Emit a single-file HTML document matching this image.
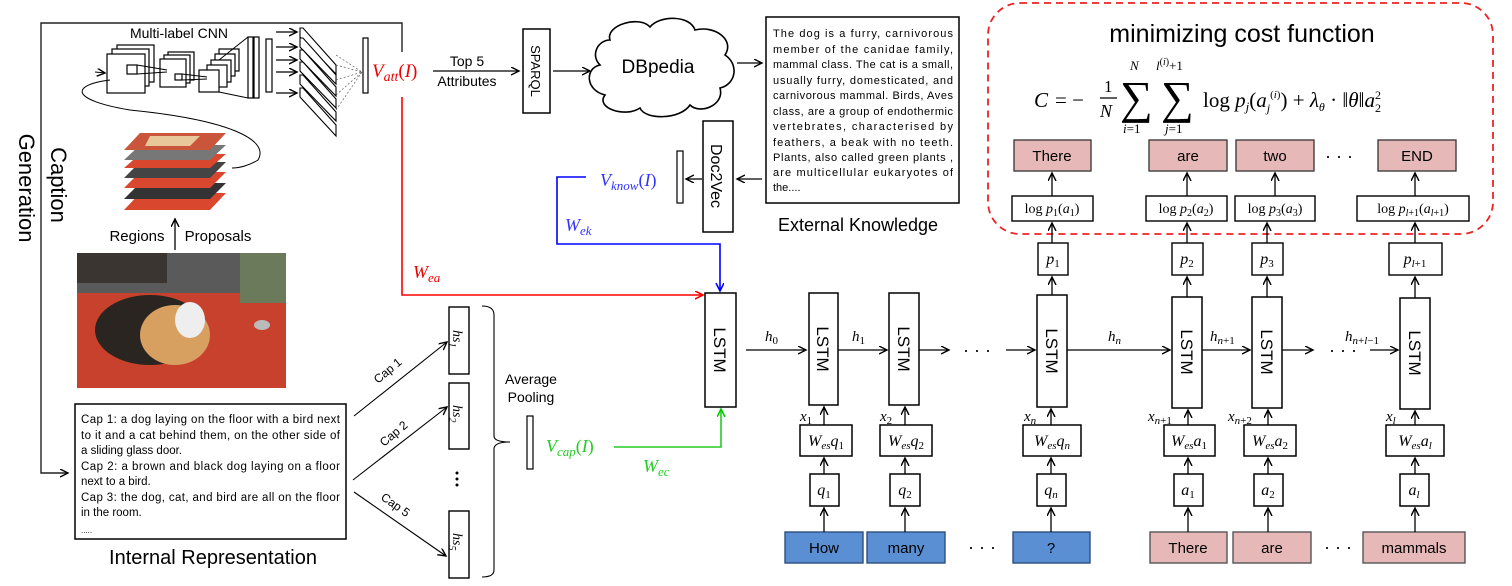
<!DOCTYPE html>
<html><head><meta charset="utf-8"><style>
html,body{margin:0;padding:0;background:#fff;}
svg{display:block;}
.s{font-family:"Liberation Sans",sans-serif;}
.m{font-family:"Liberation Serif",serif;font-style:italic;}
.r{font-family:"Liberation Serif",serif;}
</style></head><body>
<svg width="1512" height="586" viewBox="0 0 1512 586" xmlns="http://www.w3.org/2000/svg">
<defs>
<marker id="a" markerWidth="10" markerHeight="10" refX="8" refY="4" orient="auto" markerUnits="userSpaceOnUse"><path d="M0,0 L8,4 L0,8" fill="none" stroke="#000" stroke-width="1.4"/></marker>
<marker id="ar" markerWidth="10" markerHeight="10" refX="8" refY="4" orient="auto" markerUnits="userSpaceOnUse"><path d="M0,0 L8,4 L0,8" fill="none" stroke="#f00" stroke-width="1.6"/></marker>
<marker id="ab" markerWidth="10" markerHeight="10" refX="8" refY="4" orient="auto" markerUnits="userSpaceOnUse"><path d="M0,0 L8,4 L0,8" fill="none" stroke="#00f" stroke-width="1.6"/></marker>
<marker id="ag" markerWidth="10" markerHeight="10" refX="8" refY="4" orient="auto" markerUnits="userSpaceOnUse"><path d="M0,0 L8,4 L0,8" fill="none" stroke="#0c0" stroke-width="1.6"/></marker>
</defs>

<g fill="none" stroke="#222" stroke-width="1.4">
<path d="M402,52 L402,23 L41,23 L41,473 L68,473" marker-end="url(#a)"/>
</g>
<g class="s" font-size="22" fill="#000">
<text transform="translate(51,185) rotate(90)" text-anchor="middle">Caption</text>
<text transform="translate(19,188) rotate(90)" text-anchor="middle">Generation</text>
</g>

<text class="s" x="179" y="38" font-size="14" text-anchor="middle">Multi-label CNN</text>
<g fill="#fff" stroke="#000" stroke-width="1.2">
<rect x="117" y="45" width="37" height="37"/><rect x="112" y="49" width="37" height="37"/><rect x="107" y="54" width="38" height="39"/>
<rect x="127" y="65" width="10" height="9"/>
<rect x="168" y="52" width="26" height="28"/><rect x="164" y="55" width="26" height="28"/><rect x="160" y="59" width="26" height="28"/>
<rect x="175" y="74" width="7" height="6"/>
<rect x="219" y="49" width="20" height="22"/><rect x="215" y="54" width="20" height="22"/><rect x="211" y="60" width="20" height="22"/><rect x="207" y="65" width="20" height="22"/><rect x="199" y="70" width="20" height="22"/>
<rect x="248" y="37" width="5" height="61"/><rect x="254" y="37" width="5" height="61"/>
<rect x="266" y="39" width="6" height="53"/>
</g>
<g stroke="#000" stroke-width="1" fill="none">
<path d="M137,65 L167,70 M137,74 L167,72 M182,74 L207,77 M182,80 L207,79 M219,60 L248,37 M219,92 L248,98"/>
<path d="M110,80 C70,85 70,100 130,110 C230,120 270,140 258,160 C250,165 240,168 232,168"/>
</g>
<path d="M95,72 L105,73" stroke="#000" marker-end="url(#a)"/>
<g stroke="#000" stroke-width="1.2" fill="none">
<path d="M276,32 L297,32" marker-end="url(#a)"/><path d="M276,47 L297,47" marker-end="url(#a)"/><path d="M276,60 L297,60" marker-end="url(#a)"/><path d="M276,72 L297,72" marker-end="url(#a)"/><path d="M276,93 L297,93" marker-end="url(#a)"/>
</g>
<g fill="#fff" stroke="#000" stroke-width="1.1">
<polygon points="300,28 303,28 336,65 336,74 300,37"/>
<polygon points="300,38 303,38 336,75 336,84 300,47"/>
<polygon points="300,50 303,50 336,87 336,96 300,59"/>
<polygon points="300,62 303,62 336,99 336,108 300,71"/>
<polygon points="300,75 303,75 336,112 336,121 300,84"/>
<polygon points="300,88 303,88 336,125 336,136 300,97"/>
</g>
<g stroke="#444" stroke-width="0.6" stroke-dasharray="2,2"><path d="M336,65 L362,72 M336,80 L362,72 M336,95 L362,72 M336,110 L362,72 M336,55 L362,72"/></g>
<rect x="363" y="38" width="5" height="55" fill="#fff" stroke="#000" stroke-width="1.2"/>
<text class="m" x="372" y="77" font-size="19" fill="#e00">V<tspan font-size="14" dy="4">att</tspan><tspan dy="-4" class="r" font-style="normal">(</tspan>I<tspan class="r" font-style="normal">)</tspan></text>
<text class="s" x="467" y="66" font-size="14" text-anchor="middle">Top 5</text>
<text class="s" x="467" y="86" font-size="14" text-anchor="middle">Attributes</text>
<path d="M433,71 L519,71" stroke="#000" stroke-width="1.3" marker-end="url(#a)"/>

<g>
<polygon points="140,193 226,193 210,210 124,210" fill="#d9472f"/>
<polygon points="140,183 226,183 210,199 124,199" fill="#333"/>
<polygon points="140,172 226,172 210,188 124,188" fill="#d9472f"/>
<polygon points="140,162 226,162 210,178 124,178" fill="#444"/>
<polygon points="140,154 226,154 210,168 124,168" fill="#d9472f"/>
<polygon points="140,145 226,145 210,160 124,160" fill="#777"/>
<polygon points="140,133 226,133 210,150 124,150" fill="#c9553a"/>
<polygon points="150,136 200,136 190,146 145,146" fill="#e8c89a"/>
</g>
<text class="s" x="137" y="241" font-size="15" text-anchor="middle">Regions</text>
<text class="s" x="218" y="241" font-size="15" text-anchor="middle">Proposals</text>
<path d="M175,250 L175,219" stroke="#000" stroke-width="1.3" marker-end="url(#a)"/>
<rect x="77" y="253" width="209" height="135" fill="#c8412c"/>
<rect x="77" y="253" width="209" height="40" fill="#5a5a5a"/>
<rect x="77" y="253" width="90" height="30" fill="#3a3530"/>
<rect x="240" y="253" width="46" height="50" fill="#6a7a5a"/>
<ellipse cx="150" cy="330" rx="55" ry="35" fill="#2a2520"/>
<ellipse cx="175" cy="335" rx="35" ry="30" fill="#d8a060"/>
<ellipse cx="190" cy="320" rx="15" ry="18" fill="#eee"/>
<ellipse cx="262" cy="325" rx="8" ry="5" fill="#bbb"/>

<rect x="75" y="404" width="271" height="135" fill="#fff" stroke="#000" stroke-width="1.5"/>
<g class="s" font-size="11.5">
<text x="81" y="423" textLength="259">Cap 1: a dog laying on the floor with a bird next</text>
<text x="81" y="439" textLength="259">to it and a cat behind them, on the other side of</text>
<text x="81" y="454">a sliding glass door.</text>
<text x="81" y="470" textLength="259">Cap 2: a brown and black dog laying on a floor</text>
<text x="81" y="485">next to a bird.</text>
<text x="81" y="501" textLength="259">Cap 3: the dog, cat, and bird are all on the floor</text>
<text x="81" y="516">in the room.</text>
<text x="81" y="533" font-size="8">.....</text>
</g>
<text class="s" x="213" y="564" font-size="20" text-anchor="middle">Internal Representation</text>
<g stroke="#000" stroke-width="1.1" fill="none">
<path d="M354,416 L447,342" marker-end="url(#a)"/>
<path d="M353,480 L447,407" marker-end="url(#a)"/>
<path d="M354,492 L446,556" marker-end="url(#a)"/>
</g>
<g class="s" font-size="12">
<text transform="translate(378,384) rotate(-40)">Cap 1</text>
<text transform="translate(384,447) rotate(-40)">Cap 2</text>
<text transform="translate(380,499) rotate(35)">Cap 5</text>
</g>
<g fill="#fff" stroke="#000" stroke-width="1.4">
<rect x="449" y="307" width="20" height="67"/><rect x="449" y="383" width="20" height="66"/><rect x="449" y="511" width="20" height="67"/>
</g>
<g class="m" font-size="14">
<text transform="translate(453,330) rotate(90)">hs<tspan font-size="10" dy="4">1</tspan></text>
<text transform="translate(453,405) rotate(90)">hs<tspan font-size="10" dy="4">2</tspan></text>
<text transform="translate(453,533) rotate(90)">hs<tspan font-size="10" dy="4">5</tspan></text>
</g>
<g fill="#000"><circle cx="457" cy="473" r="1.5"/><circle cx="457" cy="479" r="1.5"/><circle cx="457" cy="485" r="1.5"/></g>
<path d="M482,306 Q494,306 494,315 L494,436 Q494,442 510,442 Q494,442 494,449 L494,570 Q494,577 482,577" fill="none" stroke="#000" stroke-width="1.1"/>
<text class="s" x="531" y="384" font-size="14" text-anchor="middle">Average</text>
<text class="s" x="531" y="402" font-size="14" text-anchor="middle">Pooling</text>
<rect x="527" y="416" width="6" height="53" fill="#fff" stroke="#000" stroke-width="1.2"/>
<text class="m" x="546" y="452" font-size="18" fill="#2c2">V<tspan font-size="13" dy="4">cap</tspan><tspan dy="-4" class="r" font-style="normal">(</tspan>I<tspan class="r" font-style="normal">)</tspan></text>
<text class="m" x="643" y="472" font-size="18" fill="#2c2">W<tspan font-size="13" dy="4">ec</tspan></text>
<path d="M614,447 L721,447 L721,409" fill="none" stroke="#2c2" stroke-width="1.6" marker-end="url(#ag)"/>

<path d="M402,97 L402,295 L703,295" fill="none" stroke="#f00" stroke-width="1.6" marker-end="url(#ar)"/>
<text class="m" x="413" y="278" font-size="18" fill="#e00">W<tspan font-size="13" dy="4">ea</tspan></text>

<rect x="523" y="29" width="27" height="84" fill="#fff" stroke="#000" stroke-width="1.5"/>
<text class="s" transform="translate(531,71) rotate(90)" font-size="13" text-anchor="middle">SPARQL</text>
<path d="M553,71 L590,71" stroke="#000" stroke-width="1.3" marker-end="url(#a)"/>
<path d="M610,40 C605,25 640,15 650,27 C660,15 690,15 695,30 C715,25 735,40 725,55 C740,65 735,85 720,88 C725,105 700,115 690,105 C680,120 645,120 640,108 C625,118 595,108 605,95 C585,90 585,68 600,65 C590,55 598,40 610,40 Z" fill="#fff" stroke="#000" stroke-width="1.6"/>
<text class="s" x="658" y="73" font-size="19" text-anchor="middle">DBpedia</text>
<path d="M737,63 L762,63" stroke="#000" stroke-width="1.3" marker-end="url(#a)"/>
<rect x="766" y="17" width="193" height="186" fill="#fff" stroke="#000" stroke-width="1.5"/>
<g class="s" font-size="11">
<text x="773" y="37" textLength="180">The dog is a furry, carnivorous</text>
<text x="773" y="53" textLength="180">member of the canidae family,</text>
<text x="773" y="68" textLength="180">mammal class. The cat is a small,</text>
<text x="773" y="84" textLength="180">usually furry, domesticated, and</text>
<text x="773" y="99" textLength="180">carnivorous mammal. Birds, Aves</text>
<text x="773" y="115" textLength="180">class, are a group of endothermic</text>
<text x="773" y="130" textLength="180">vertebrates, characterised by</text>
<text x="773" y="146" textLength="180">feathers, a beak with no teeth.</text>
<text x="773" y="161" textLength="180">Plants, also called green plants ,</text>
<text x="773" y="176" textLength="180">are multicellular eukaryotes of</text>
<text x="773" y="191">the....</text>
</g>
<text class="s" x="858" y="231" font-size="18" text-anchor="middle">External Knowledge</text>
<path d="M762,179 L737,179" stroke="#000" stroke-width="1.3" marker-end="url(#a)"/>
<rect x="703" y="121" width="30" height="111" fill="#fff" stroke="#000" stroke-width="1.5"/>
<text class="s" transform="translate(711,176) rotate(90)" font-size="16" text-anchor="middle">Doc2Vec</text>
<path d="M702,179 L686,179" stroke="#000" stroke-width="1.3" marker-end="url(#a)"/>
<rect x="677" y="151" width="6" height="52" fill="#fff" stroke="#000" stroke-width="1.2"/>
<text class="m" x="600" y="186" font-size="18" fill="#33f">V<tspan font-size="13" dy="4">know</tspan><tspan dy="-4" class="r" font-style="normal">(</tspan>I<tspan class="r" font-style="normal">)</tspan></text>
<path d="M586,177 L557,177 L557,244 L720,244 L720,291" fill="none" stroke="#00f" stroke-width="1.6" marker-end="url(#ab)"/>
<text class="m" x="565" y="231" font-size="18" fill="#33f">W<tspan font-size="13" dy="4">ek</tspan></text>

<rect x="988" y="3" width="505" height="231" rx="32" fill="none" stroke="#e22" stroke-width="1.8" stroke-dasharray="7,5"/>
<text class="s" x="1242" y="42" font-size="25" text-anchor="middle">minimizing cost function</text>
<g class="r" font-size="21">
<text x="1034" y="107" class="m">C</text>
<text x="1055" y="107">= −</text>
<text x="1104" y="92" font-size="17">1</text>
<line x1="1100" y1="98" x2="1117" y2="98" stroke="#000" stroke-width="1.2"/>
<text x="1100" y="117" class="m" font-size="18">N</text>
<text x="1120" y="113" font-size="46">∑</text>
<text x="1130" y="70" class="m" font-size="13">N</text>
<text x="1123" y="133" class="m" font-size="13">i<tspan font-style="normal">=1</tspan></text>
<text x="1161" y="113" font-size="46">∑</text>
<text x="1156" y="70" class="m" font-size="13">l<tspan font-size="10" dy="-5" font-style="normal">(</tspan><tspan font-size="10">i</tspan><tspan font-size="10" font-style="normal">)</tspan><tspan dy="5" font-style="normal">+1</tspan></text>
<text x="1165" y="133" class="m" font-size="13">j<tspan font-style="normal">=1</tspan></text>
<text x="1203" y="107">log <tspan class="m">p</tspan><tspan class="m" font-size="13" dy="4">j</tspan><tspan dy="-4">(</tspan><tspan class="m">a</tspan><tspan class="m" font-size="12" dy="5">j</tspan><tspan font-size="11" dy="-14">(</tspan><tspan class="m" font-size="11">i</tspan><tspan font-size="11">)</tspan><tspan dy="9">) + </tspan><tspan class="m">λ</tspan><tspan class="m" font-size="12" dy="4">θ</tspan><tspan dy="-4"> · ‖</tspan><tspan class="m">θ</tspan><tspan>‖</tspan><tspan class="m">a</tspan><tspan font-size="12" dy="5">2</tspan><tspan font-size="12" dx="-6" dy="-13">2</tspan></text>
</g>

<g fill="#e6b8b7" stroke="#333" stroke-width="1.3">
<rect x="1014" y="140" width="77" height="31"/><rect x="1149" y="140" width="78" height="31"/><rect x="1236" y="140" width="78" height="31"/><rect x="1378" y="140" width="78" height="31"/>
</g>
<g class="s" font-size="15" text-anchor="middle">
<text x="1052" y="161">There</text><text x="1188" y="161">are</text><text x="1275" y="161">two</text><text x="1417" y="161">END</text>
</g>
<text class="s" x="1339" y="162" font-size="18" text-anchor="middle">· · ·</text>
<g fill="#fff" stroke="#000" stroke-width="1.4">
<rect x="1012" y="196" width="81" height="25"/><rect x="1146" y="196" width="81" height="25"/><rect x="1235" y="196" width="80" height="25"/><rect x="1357" y="196" width="112" height="25"/>
</g>
<g class="r" font-size="14" text-anchor="middle">
<text x="1052" y="213">log <tspan class="m">p</tspan><tspan font-size="10" dy="3">1</tspan><tspan dy="-3">(</tspan><tspan class="m">a</tspan><tspan font-size="10" dy="3">1</tspan><tspan dy="-3">)</tspan></text>
<text x="1186" y="213">log <tspan class="m">p</tspan><tspan font-size="10" dy="3">2</tspan><tspan dy="-3">(</tspan><tspan class="m">a</tspan><tspan font-size="10" dy="3">2</tspan><tspan dy="-3">)</tspan></text>
<text x="1275" y="213">log <tspan class="m">p</tspan><tspan font-size="10" dy="3">3</tspan><tspan dy="-3">(</tspan><tspan class="m">a</tspan><tspan font-size="10" dy="3">3</tspan><tspan dy="-3">)</tspan></text>
<text x="1413" y="213">log <tspan class="m">p</tspan><tspan font-size="10" dy="3" class="m">l</tspan><tspan font-size="10">+1</tspan><tspan dy="-3">(</tspan><tspan class="m">a</tspan><tspan font-size="10" dy="3" class="m">l</tspan><tspan font-size="10">+1</tspan><tspan dy="-3">)</tspan></text>
</g>
<g fill="#fff" stroke="#000" stroke-width="1.4">
<rect x="1038" y="243" width="30" height="32"/><rect x="1172" y="243" width="31" height="32"/><rect x="1252" y="243" width="31" height="32"/><rect x="1389" y="243" width="53" height="32"/>
</g>
<g class="m" font-size="16" text-anchor="middle">
<text x="1053" y="264">p<tspan font-size="11" dy="3" font-style="normal">1</tspan></text>
<text x="1187" y="264">p<tspan font-size="11" dy="3" font-style="normal">2</tspan></text>
<text x="1267" y="264">p<tspan font-size="11" dy="3" font-style="normal">3</tspan></text>
<text x="1415" y="264">p<tspan font-size="11" dy="3">l</tspan><tspan font-size="11" font-style="normal">+1</tspan></text>
</g>

<g fill="#fff" stroke="#000" stroke-width="1.5">
<rect x="705" y="293" width="31" height="114"/>
<rect x="809" y="293" width="29" height="112"/>
<rect x="889" y="293" width="30" height="112"/>
<rect x="1037" y="295" width="30" height="112"/>
<rect x="1172" y="297" width="30" height="111"/>
<rect x="1252" y="297" width="30" height="111"/>
<rect x="1400" y="298" width="30" height="111"/>
</g>
<g class="s" font-size="17" text-anchor="middle">
<text transform="translate(714,350) rotate(90)">LSTM</text>
<text transform="translate(817,349) rotate(90)">LSTM</text>
<text transform="translate(898,349) rotate(90)">LSTM</text>
<text transform="translate(1046,351) rotate(90)">LSTM</text>
<text transform="translate(1181,352) rotate(90)">LSTM</text>
<text transform="translate(1261,352) rotate(90)">LSTM</text>
<text transform="translate(1409,353) rotate(90)">LSTM</text>
</g>
<g stroke="#000" stroke-width="1.2" fill="none">
<path d="M746,350 L806,350" marker-end="url(#a)"/>
<path d="M838,350 L887,350" marker-end="url(#a)"/>
<path d="M919,350 L949,350" marker-end="url(#a)"/>
<path d="M1006,350 L1035,350" marker-end="url(#a)"/>
<path d="M1067,350 L1170,350" marker-end="url(#a)"/>
<path d="M1202,350 L1250,350" marker-end="url(#a)"/>
<path d="M1282,350 L1313,350" marker-end="url(#a)"/>
<path d="M1370,350 L1398,350" marker-end="url(#a)"/>
</g>
<g font-size="18" class="s" text-anchor="middle"><text x="977" y="356">· · ·</text><text x="1343" y="356">· · ·</text></g>
<g class="m" font-size="15">
<text x="765" y="341">h<tspan font-size="11" dy="3" font-style="normal">0</tspan></text>
<text x="852" y="341">h<tspan font-size="11" dy="3" font-style="normal">1</tspan></text>
<text x="1108" y="341">h<tspan font-size="11" dy="3">n</tspan></text>
<text x="1210" y="341">h<tspan font-size="11" dy="3">n</tspan><tspan font-size="11" font-style="normal">+1</tspan></text>
<text x="1345" y="341">h<tspan font-size="11" dy="3">n</tspan><tspan font-size="11" font-style="normal">+</tspan><tspan font-size="11">l</tspan><tspan font-size="11" font-style="normal">−1</tspan></text>
</g>
<g class="m" font-size="15">
<text x="800" y="421">x<tspan font-size="11" dy="3" font-style="normal">1</tspan></text>
<text x="880" y="421">x<tspan font-size="11" dy="3" font-style="normal">2</tspan></text>
<text x="1024" y="421">x<tspan font-size="11" dy="3">n</tspan></text>
<text x="1148" y="421">x<tspan font-size="11" dy="3">n</tspan><tspan font-size="11" font-style="normal">+1</tspan></text>
<text x="1228" y="421">x<tspan font-size="11" dy="3">n</tspan><tspan font-size="11" font-style="normal">+2</tspan></text>
<text x="1386" y="421">x<tspan font-size="11" dy="3">l</tspan></text>
</g>
<g fill="#fff" stroke="#000" stroke-width="1.5">
<rect x="800" y="425" width="52" height="31"/><rect x="880" y="425" width="52" height="31"/><rect x="1023" y="425" width="58" height="31"/>
<rect x="1164" y="425" width="51" height="31"/><rect x="1244" y="425" width="52" height="31"/><rect x="1386" y="425" width="58" height="31"/>
</g>
<g class="m" font-size="16" text-anchor="middle">
<text x="826" y="446">W<tspan font-size="11" dy="3">es</tspan><tspan dy="-3">q</tspan><tspan font-size="11" dy="3" font-style="normal">1</tspan></text>
<text x="906" y="446">W<tspan font-size="11" dy="3">es</tspan><tspan dy="-3">q</tspan><tspan font-size="11" dy="3" font-style="normal">2</tspan></text>
<text x="1052" y="446">W<tspan font-size="11" dy="3">es</tspan><tspan dy="-3">q</tspan><tspan font-size="11" dy="3">n</tspan></text>
<text x="1189" y="446">W<tspan font-size="11" dy="3">es</tspan><tspan dy="-3">a</tspan><tspan font-size="11" dy="3" font-style="normal">1</tspan></text>
<text x="1270" y="446">W<tspan font-size="11" dy="3">es</tspan><tspan dy="-3">a</tspan><tspan font-size="11" dy="3" font-style="normal">2</tspan></text>
<text x="1415" y="446">W<tspan font-size="11" dy="3">es</tspan><tspan dy="-3">a</tspan><tspan font-size="11" dy="3">l</tspan></text>
</g>
<g fill="#fff" stroke="#000" stroke-width="1.5">
<rect x="810" y="474" width="29" height="32"/><rect x="890" y="474" width="30" height="32"/><rect x="1037" y="474" width="29" height="32"/>
<rect x="1174" y="474" width="29" height="32"/><rect x="1254" y="474" width="29" height="32"/><rect x="1400" y="474" width="29" height="32"/>
</g>
<g class="m" font-size="16" text-anchor="middle">
<text x="824" y="495">q<tspan font-size="11" dy="3" font-style="normal">1</tspan></text>
<text x="905" y="495">q<tspan font-size="11" dy="3" font-style="normal">2</tspan></text>
<text x="1051" y="495">q<tspan font-size="11" dy="3">n</tspan></text>
<text x="1188" y="495">a<tspan font-size="11" dy="3" font-style="normal">1</tspan></text>
<text x="1268" y="495">a<tspan font-size="11" dy="3" font-style="normal">2</tspan></text>
<text x="1414" y="495">a<tspan font-size="11" dy="3">l</tspan></text>
</g>
<g fill="#5a8fd4" stroke="#2d4f80" stroke-width="1.4">
<rect x="785" y="532" width="78" height="31"/><rect x="867" y="532" width="78" height="31"/><rect x="1013" y="532" width="77" height="31"/>
</g>
<g fill="#e6b8b7" stroke="#555" stroke-width="1.4">
<rect x="1150" y="532" width="77" height="31"/><rect x="1233" y="532" width="78" height="31"/><rect x="1363" y="532" width="102" height="31"/>
</g>
<g class="s" font-size="15" text-anchor="middle">
<text x="824" y="553">How</text><text x="906" y="553">many</text><text x="1051" y="553">?</text>
<text x="1188" y="553">There</text><text x="1272" y="553">are</text><text x="1414" y="553">mammals</text>
</g>
<g font-size="18" class="s" text-anchor="middle"><text x="982" y="553">· · ·</text><text x="1338" y="553">· · ·</text></g>

<g stroke="#000" stroke-width="1.3" fill="none">
<path d="M824,532 L824,508" marker-end="url(#a)"/><path d="M824,474 L824,458" marker-end="url(#a)"/><path d="M824,425 L824,407" marker-end="url(#a)"/>
<path d="M905,532 L905,508" marker-end="url(#a)"/><path d="M905,474 L905,458" marker-end="url(#a)"/><path d="M905,425 L905,407" marker-end="url(#a)"/>
<path d="M1051,532 L1051,508" marker-end="url(#a)"/><path d="M1051,474 L1051,458" marker-end="url(#a)"/><path d="M1051,425 L1051,409" marker-end="url(#a)"/>
<path d="M1188,532 L1188,508" marker-end="url(#a)"/><path d="M1188,474 L1188,458" marker-end="url(#a)"/><path d="M1188,425 L1188,410" marker-end="url(#a)"/>
<path d="M1268,532 L1268,508" marker-end="url(#a)"/><path d="M1268,474 L1268,458" marker-end="url(#a)"/><path d="M1268,425 L1268,410" marker-end="url(#a)"/>
<path d="M1415,532 L1415,508" marker-end="url(#a)"/><path d="M1415,474 L1415,458" marker-end="url(#a)"/><path d="M1415,425 L1415,411" marker-end="url(#a)"/>
<path d="M1052,295 L1052,277" marker-end="url(#a)"/><path d="M1052,243 L1052,223" marker-end="url(#a)"/><path d="M1052,196 L1052,173" marker-end="url(#a)"/>
<path d="M1187,297 L1187,277" marker-end="url(#a)"/><path d="M1187,243 L1187,223" marker-end="url(#a)"/><path d="M1187,196 L1187,173" marker-end="url(#a)"/>
<path d="M1267,297 L1267,277" marker-end="url(#a)"/><path d="M1267,243 L1267,223" marker-end="url(#a)"/><path d="M1275,196 L1275,173" marker-end="url(#a)"/>
<path d="M1415,298 L1415,277" marker-end="url(#a)"/><path d="M1415,243 L1415,223" marker-end="url(#a)"/><path d="M1415,196 L1415,173" marker-end="url(#a)"/>
</g>
</svg>
</body></html>
